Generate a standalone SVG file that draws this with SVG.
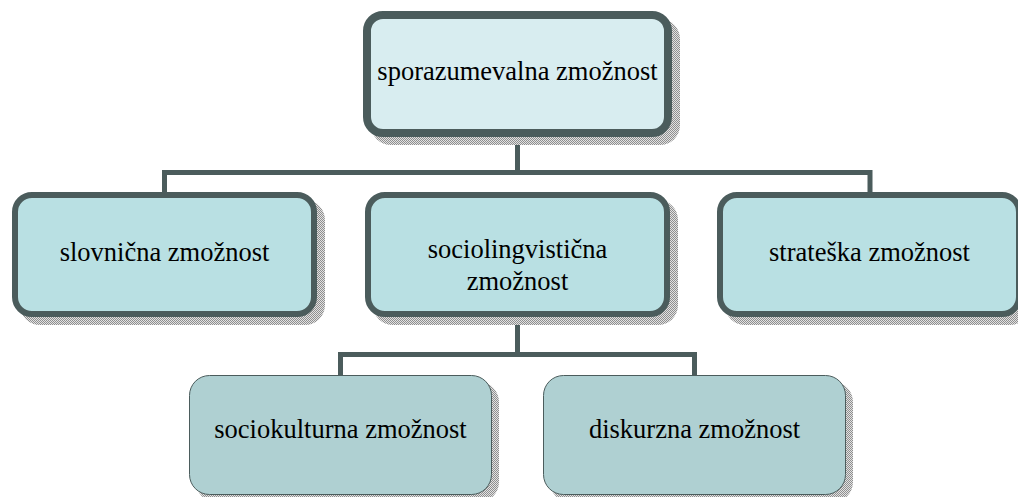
<svg xmlns="http://www.w3.org/2000/svg" width="1018" height="497" viewBox="0 0 1018 497">
  <defs>
    <pattern id="dots" width="2" height="2" patternUnits="userSpaceOnUse">
      <rect width="2" height="2" fill="#e2e2e2"/>
      <rect width="1" height="1" fill="#8f8f8f"/>
      <rect x="1" y="1" width="1" height="1" fill="#8f8f8f"/>
    </pattern>
  </defs>
  <style>
    .shadow { fill: url(#dots); }
    .top { fill: #d8edf0; stroke: #4b5c5c; stroke-width: 8; }
    .mid { fill: #b9e0e3; stroke: #4b5c5c; stroke-width: 6; }
    .low { fill: #afd0d2; stroke: #4b5c5c; stroke-width: 1; }
    .conn { fill: none; stroke: #4b5c5c; stroke-width: 5; stroke-linejoin: miter; }
    text { font-family: "Liberation Serif", "Times New Roman", serif; font-size: 26.5px; fill: #000; text-anchor: middle; }
  </style>
  <rect width="1018" height="497" fill="#ffffff"/>

  <g id="connectors">
    <path class="conn" d="M517.5 137 V172.5 M164.5 194 V172.5 H870 V194"/>
    <path class="conn" d="M517.5 317 V354.5 M340.5 376 V354.5 H694.5 V376"/>
  </g>

  <g id="node-sporazumevalna">
    <rect class="shadow" x="371" y="19" width="309" height="126" rx="20"/>
    <rect class="top" x="367" y="15" width="301" height="118" rx="16"/>
    <text x="517.5" y="80">sporazumevalna zmožnost</text>
  </g>

  <g id="node-slovnicna">
    <rect class="shadow" x="20" y="200" width="305" height="125" rx="20"/>
    <rect class="mid" x="15" y="195" width="299" height="119" rx="17"/>
    <text x="164.5" y="261">slovnična zmožnost</text>
  </g>

  <g id="node-sociolingvisticna">
    <rect class="shadow" x="373" y="200" width="305" height="125" rx="20"/>
    <rect class="mid" x="368" y="195" width="299" height="119" rx="17"/>
    <text x="517.5" y="258">sociolingvistična</text>
    <text x="517.5" y="290">zmožnost</text>
  </g>

  <g id="node-strateska">
    <rect class="shadow" x="725" y="200" width="305" height="125" rx="20"/>
    <rect class="mid" x="720" y="195" width="299" height="119" rx="17"/>
    <text x="869.5" y="261">strateška zmožnost</text>
  </g>

  <g id="node-sociokulturna">
    <rect class="shadow" x="196" y="382" width="303" height="120" rx="20"/>
    <rect class="low" x="189.5" y="375.5" width="302" height="119" rx="20"/>
    <text x="340.5" y="438">sociokulturna zmožnost</text>
  </g>

  <g id="node-diskurzna">
    <rect class="shadow" x="550" y="382" width="303" height="120" rx="20"/>
    <rect class="low" x="543.5" y="375.5" width="302" height="119" rx="20"/>
    <text x="694.5" y="438">diskurzna zmožnost</text>
  </g>
</svg>
